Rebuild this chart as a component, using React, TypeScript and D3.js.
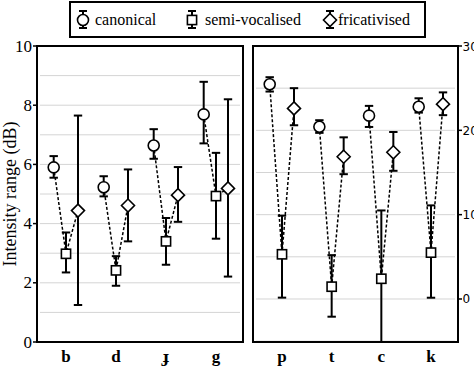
import React from "react";
import * as d3 from "d3";

const leftCats = ["b", "d", "ɟ", "g"];
const rightCats = ["p", "t", "c", "k"];
const seriesNames = ["canonical", "semi-vocalised", "fricativised"];

// [mean, lower, upper] per category
const leftCanonical = [[5.9, 5.55, 6.28], [5.23, 4.92, 5.6], [6.64, 6.19, 7.19], [7.69, 6.71, 8.79]];
const leftSemi = [[2.98, 2.35, 3.7], [2.42, 1.9, 2.9], [3.4, 2.61, 4.19], [4.93, 3.49, 6.39]];
const leftFric = [[4.44, 1.25, 7.65], [4.61, 3.4, 5.83], [4.96, 4.06, 5.91], [5.19, 2.21, 8.2]];

const rightCanonical = [[25.46, 24.6, 26.3], [20.43, 19.7, 21.2], [21.74, 20.4, 22.9], [22.8, 22.1, 23.8]];
const rightSemi = [[5.3, 0.16, 9.88], [1.46, -2.1, 5.2], [2.4, -5.7, 10.5], [5.5, 0.15, 11.1]];
const rightFric = [[22.6, 20.6, 25.0], [16.87, 14.8, 19.17], [17.4, 15.2, 19.8], [23.1, 21.8, 24.5]];

const leftTicks = [0, 2, 4, 6, 8, 10];
const leftGrid = [1, 2, 3, 4, 5, 6, 7, 8, 9];
const rightTicks = [0, 10, 20, 30];
const rightGrid = [-5, 0, 5, 10, 15, 20, 25];

const TOP = 46;
const BOTTOM = 342;
const SERIF = "'Liberation Serif', 'Times New Roman', serif";
const SANS = "'DejaVu Sans', Verdana, sans-serif";

function Marker({ kind, x, y }: { kind: number; x: number; y: number }) {
  if (kind === 0) return <circle cx={x} cy={y} r={5.5} fill="#fff" stroke="#000" strokeWidth={1.6} />;
  if (kind === 1) return <rect x={x - 4.6} y={y - 4.6} width={9.2} height={9.2} fill="#fff" stroke="#000" strokeWidth={1.6} />;
  const s = 6.5;
  return (
    <path d={`M${x},${y - s}L${x + s},${y}L${x},${y + s}L${x - s},${y}Z`} fill="#fff" stroke="#000" strokeWidth={1.6} />
  );
}

function ErrBar({ x, y1, y2, c = 4.2 }: { x: number; y1: number; y2: number; c?: number }) {
  return (
    <g stroke="#000" strokeWidth={2}>
      <line x1={x} x2={x} y1={y1} y2={y2} />
      <line x1={x - c} x2={x + c} y1={y1} y2={y1} />
      <line x1={x - c} x2={x + c} y1={y2} y2={y2} />
    </g>
  );
}

function Panel({
  x0, x1, cats, series, domain, grid, clipId,
}: {
  x0: number; x1: number; cats: string[]; series: number[][][]; domain: [number, number]; grid: number[]; clipId: string;
}) {
  const y = d3.scaleLinear().domain(domain).range([BOTTOM, TOP]);
  const xs = d3.scalePoint<string>().domain(cats).range([x0 + 29, x1 - 27]);
  const offs = [-12.3, 0, 12];
  return (
    <g>
      <defs>
        <clipPath id={clipId}>
          <rect x={x0} y={TOP} width={x1 - x0} height={BOTTOM - TOP} />
        </clipPath>
      </defs>
      {grid.map((g) => (
        <line key={g} x1={x0 + 3} x2={x1 - 3} y1={y(g)} y2={y(g)} stroke="#d4d4d4" strokeWidth={1} />
      ))}
      <g clipPath={`url(#${clipId})`}>
        {cats.map((c, i) => {
          const cx = xs(c)!;
          const pts = series.map((s, k) => [cx + offs[k], y(s[i][0])]);
          return (
            <g key={c}>
              <path
                d={d3.line()(pts as [number, number][]) || ""}
                fill="none"
                stroke="#000"
                strokeWidth={1.5}
                strokeDasharray="3,2"
              />
              {series.map((s, k) => (
                <ErrBar key={k} x={cx + offs[k]} y1={y(s[i][1])} y2={y(s[i][2])} />
              ))}
              {series.map((s, k) => (
                <Marker key={k} kind={k} x={cx + offs[k]} y={y(s[i][0])} />
              ))}
            </g>
          );
        })}
      </g>
      <rect x={x0} y={TOP} width={x1 - x0} height={BOTTOM - TOP} fill="none" stroke="#000" strokeWidth={2} />
      {cats.map((c) => (
        <text key={c} x={xs(c)!} y={362} textAnchor="middle" fontFamily={SERIF} fontWeight="bold" fontSize={17}>
          {c}
        </text>
      ))}
    </g>
  );
}

export default function App() {
  const yl = d3.scaleLinear().domain([0, 10]).range([BOTTOM, TOP]);
  const yr = d3.scaleLinear().domain([-5.1, 30]).range([BOTTOM, TOP]);
  const legendX = [83, 192, 330];
  const legendTextX = [95, 205, 338];
  return (
    <svg width={474} height={366} style={{ position: "absolute", left: 0, top: 0, background: "#fff" }}>
      <rect x={0} y={0} width={474} height={366} fill="#fff" />
      {/* legend */}
      <rect x={70} y={2} width={355} height={35} fill="#fff" stroke="#000" strokeWidth={2} />
      {seriesNames.map((n, k) => (
        <g key={n}>
          <ErrBar x={legendX[k]} y1={11} y2={28} c={4} />
          <Marker kind={k} x={legendX[k]} y={20} />
          <text x={legendTextX[k]} y={25} fontFamily={SERIF} fontSize={16}>
            {n}
          </text>
        </g>
      ))}

      <Panel x0={37} x1={243} cats={leftCats} series={[leftCanonical, leftSemi, leftFric]} domain={[0, 10]} grid={leftGrid} clipId="cl" />
      <Panel x0={253} x1={458} cats={rightCats} series={[rightCanonical, rightSemi, rightFric]} domain={[-5.1, 30]} grid={rightGrid} clipId="cr" />

      {/* left axis ticks */}
      {leftTicks.map((t) => (
        <g key={t}>
          <line x1={33} x2={37} y1={yl(t)} y2={yl(t)} stroke="#000" strokeWidth={1.5} />
          <text x={32} y={yl(t) + 5.5} textAnchor="end" fontFamily={SERIF} fontSize={17}>
            {t}
          </text>
        </g>
      ))}
      <text
        transform={`translate(16,${(TOP + BOTTOM) / 2}) rotate(-90)`}
        textAnchor="middle"
        fontFamily={SERIF}
        fontSize={18}
      >
        Intensity range (dB)
      </text>

      {/* right axis ticks */}
      {rightTicks.map((t) => (
        <g key={t}>
          <line x1={458} x2={462} y1={yr(t)} y2={yr(t)} stroke="#000" strokeWidth={1.5} />
          <text x={462.5} y={yr(t) + 4.5} fontFamily={SANS} fontSize={12}>
            {t}
          </text>
        </g>
      ))}
    </svg>
  );
}
